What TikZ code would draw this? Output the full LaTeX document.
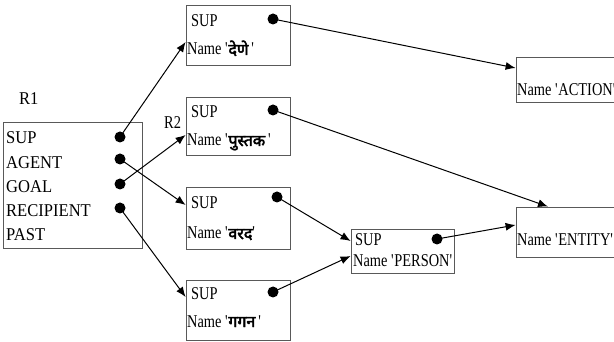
\documentclass[tikz,border=0pt]{standalone}
\usepackage{fontspec}
\setmainfont{Liberation Serif}
\newfontfamily\boxfont[FakeStretch=0.8]{Liberation Serif}
\newfontfamily\listfont[FakeStretch=0.92]{Liberation Serif}
\newfontfamily\deva[Script=Devanagari,FakeBold=3]{Noto Sans}
\usetikzlibrary{arrows.meta}

\tikzset{
  frame/.style={draw=black!65, line width=0.8pt, inner sep=0pt},
  slot/.style={circle, fill=black, inner sep=0pt, minimum size=11pt},
  link/.style={-{Latex[length=10pt,width=8pt]}, line width=1pt},
  word/.style={anchor=base west, inner sep=0pt, font=\boxfont\fontsize{18}{18}\selectfont},
  field/.style={anchor=base west, inner sep=0pt, font=\listfont\fontsize{18}{18}\selectfont}
}
\newcommand{\hin}[1]{{\deva\fontsize{16}{16}\selectfont #1}}
\newcommand{\q}{\textquotesingle}

\begin{document}
\begin{tikzpicture}[x=1pt,y=-1pt]
\clip (0,0) rectangle (614,342);

% frames
\node[frame, minimum width=139pt, minimum height=126pt] (R1) at (72.5,185) {};
\node[frame, minimum width=104pt, minimum height=60pt] (dene) at (238,35) {};
\node[frame, minimum width=104pt, minimum height=58pt] (pustak) at (238,126) {};
\node[frame, minimum width=104pt, minimum height=62pt] (varad) at (238,218) {};
\node[frame, minimum width=104pt, minimum height=60pt] (gagan) at (238,310) {};
\node[frame, minimum width=103pt, minimum height=44pt] (person) at (402.5,251) {};
\node[frame, minimum width=104pt, minimum height=45pt] (action) at (568,79.5) {};
\node[frame, minimum width=104pt, minimum height=50pt] (entity) at (568,232) {};

% texts
\node[field] (r1lbl) at (19,105) {R1};
\node[word] (r2lbl) at (164,129) {R2};
\foreach \f [count=\i] in {SUP,AGENT,GOAL,RECIPIENT,PAST}
  \node[field] (r1f\i) at (6,119.75+24.25*\i) {\f};

\node[word] (deneSup) at (191,27) {SUP};
\node[word] (deneName) at (187,55) {Name \q\hin{देणे}\,\q};
\node[word] (pustakSup) at (191,118) {SUP};
\node[word] (pustakName) at (187,146) {Name \q\hin{पुस्तक}\,\q};
\node[word] (varadSup) at (191,209) {SUP};
\node[word] (varadName) at (187,239) {Name \q\hin{वरद}\q};
\node[word] (gaganSup) at (191,299) {SUP};
\node[word] (gaganName) at (187,327) {Name \q\hin{गगन}\,\q};
\node[word] (personSup) at (355,246) {SUP};
\node[word] (personName) at (353,266) {Name \q PERSON\q};
\node[word] (actionName) at (517,96) {Name \q ACTION\q};
\node[word] (entityName) at (517,246) {Name \q ENTITY\q};

% slots
\node[slot] (s1) at (120,137) {};
\node[slot] (s2) at (120,159) {};
\node[slot] (s3) at (120,184) {};
\node[slot] (s4) at (120,208) {};
\node[slot] (sDene) at (273,19) {};
\node[slot] (sPustak) at (273,110) {};
\node[slot] (sVarad) at (277,197) {};
\node[slot] (sGagan) at (273,292) {};
\node[slot] (sPerson) at (437,239) {};

% links
\draw[link] (s1.center) -- ([yshift=-7pt]dene.west);
\draw[link] (s2.center) -- ([yshift=13pt]varad.west);
\draw[link] (s3.center) -- ([yshift=-9pt]pustak.west);
\draw[link] (s4.center) -- ([yshift=13pt]gagan.west);
\draw[link] (sDene.center) -- ([yshift=11.5pt]action.west);
\draw[link] (sPustak.center) -- ([xshift=-20pt]entity.north);
\draw[link] (sVarad.center) -- ([yshift=10pt]person.west);
\draw[link] (sGagan.center) -- ([yshift=-5pt]person.west);
\draw[link] (sPerson.center) -- ([yshift=7pt]entity.west);
\end{tikzpicture}
\end{document}
